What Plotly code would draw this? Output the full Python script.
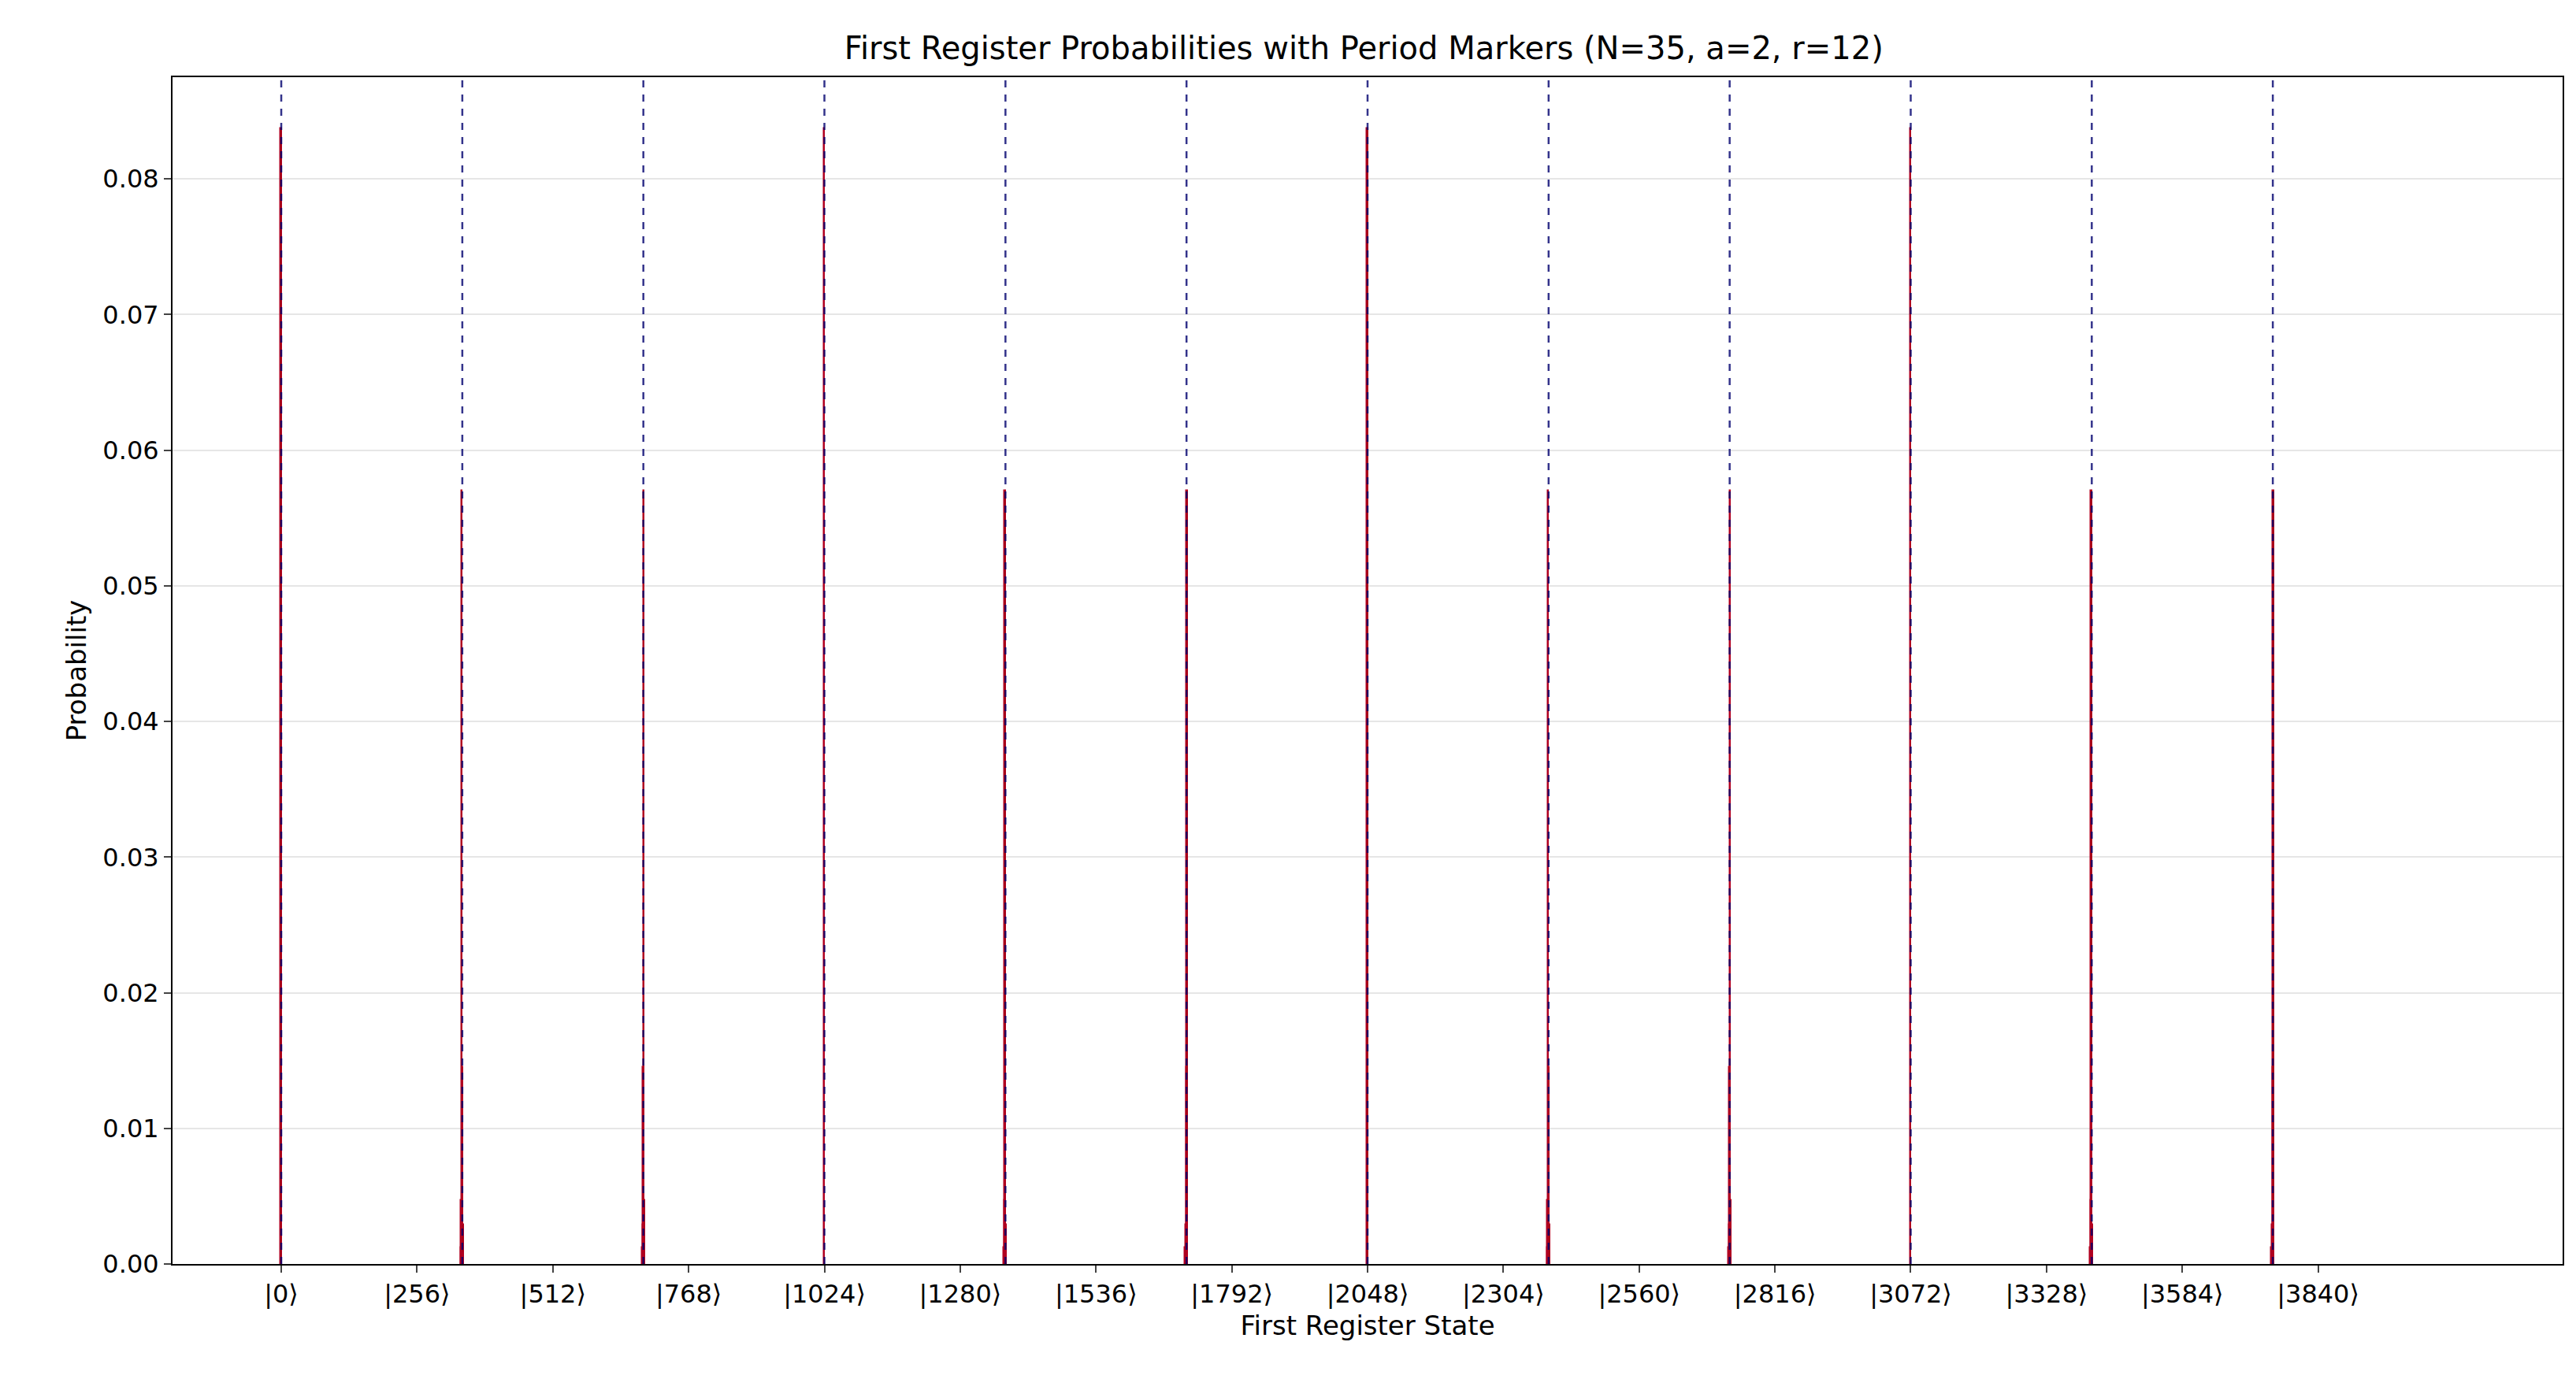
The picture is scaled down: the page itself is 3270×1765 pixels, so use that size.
import plotly.graph_objects as go

# Non-negligible probabilities of the first register
states = [0,
          339, 340, 341, 342, 343, 344,
          681, 682, 683, 684, 685,
          1024,
          1363, 1364, 1365, 1366, 1367,
          1705, 1706, 1707, 1708, 1709,
          2048,
          2387, 2388, 2389, 2390, 2391,
          2729, 2730, 2731, 2732, 2733,
          3072,
          3411, 3412, 3413, 3414, 3415,
          3753, 3754, 3755, 3756, 3757]
probs = [0.0837,
         0.0012, 0.0047, 0.0570, 0.0145, 0.0029, 0.0008,
         0.0012, 0.0029, 0.0145, 0.0570, 0.0047,
         0.0837,
         0.0012, 0.0047, 0.0570, 0.0145, 0.0029,
         0.0012, 0.0029, 0.0145, 0.0570, 0.0047,
         0.0837,
         0.0012, 0.0047, 0.0570, 0.0145, 0.0029,
         0.0012, 0.0029, 0.0145, 0.0570, 0.0047,
         0.0837,
         0.0012, 0.0047, 0.0570, 0.0145, 0.0029,
         0.0012, 0.0029, 0.0145, 0.0570, 0.0047]
period_markers = [0, 341.33, 682.67, 1024, 1365.33, 1706.67, 2048,
                  2389.33, 2730.67, 3072, 3413.33, 3754.67]
tick_vals = list(range(0, 4096, 256))
tick_text = [f"|{v}⟩" for v in tick_vals]

fig = go.Figure(go.Bar(x=states, y=probs, width=2,
                       marker=dict(color="#8b0000", line=dict(color="#b00020", width=1.5))))
for m in period_markers:
    fig.add_shape(type="line", x0=m, x1=m, y0=0, y1=1, yref="paper",
                  line=dict(color="rgba(0,0,110,0.8)", width=2.5, dash="dash"))

f = "DejaVu Sans"
fig.update_layout(
    width=3270, height=1765, plot_bgcolor="white", paper_bgcolor="white",
    margin=dict(l=211, r=25, t=90, b=168), showlegend=False, bargap=0,
    title=dict(text="First Register Probabilities with Period Markers (N=35, a=2, r=12)",
               x=0.527, xanchor="center", y=0.978, font=dict(family=f, size=40, color="black")),
    font=dict(family=f, size=32, color="black"),
)
fig.update_xaxes(range=[-205, 4301], tickvals=tick_vals, ticktext=tick_text, showgrid=False,
                 showline=True, linecolor="black", linewidth=2, mirror=True,
                 ticks="outside", ticklen=9, tickwidth=2, zeroline=False,
                 title=dict(text="First Register State", font=dict(size=34), standoff=10))
fig.update_yaxes(range=[0, 0.0875], dtick=0.01, tickformat=".2f", showgrid=True,
                 gridcolor="#e6e6e6", gridwidth=2, showline=True, linecolor="black",
                 linewidth=2, mirror=True, ticks="outside", ticklen=9, tickwidth=2,
                 zeroline=False, title=dict(text="Probability", font=dict(size=34), standoff=10))
fig.write_html("out.html")
